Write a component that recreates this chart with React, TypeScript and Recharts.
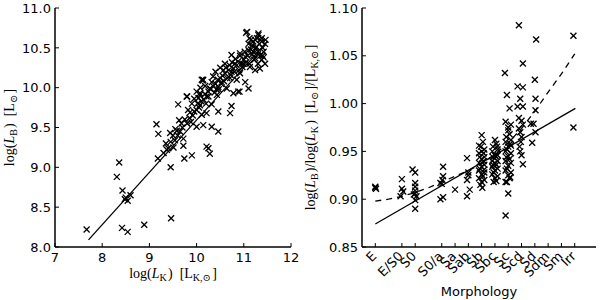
import React from "react"
import { ScatterChart, Scatter, XAxis, YAxis, Label } from "recharts"

// left panel: log(L_K) vs log(L_B)
const lumPoints: [number, number][] = [
    [7.67, 8.22], [8.31, 8.88], [8.36, 9.06], [8.43, 8.71], [8.48, 8.60], [8.54, 8.58],
    [8.60, 8.65], [8.50, 8.62], [8.42, 8.24], [8.54, 8.19], [8.89, 8.28], [9.46, 8.36],
    [9.45, 9.00], [9.18, 9.11], [9.74, 9.11], [9.90, 9.15], [10.28, 9.17], [9.37, 9.22],
    [9.40, 9.24], [9.15, 9.54], [9.19, 9.42], [9.44, 9.43], [9.58, 9.46], [9.54, 9.34],
    [9.72, 9.36], [9.72, 9.27], [10.25, 9.24], [10.21, 9.26], [9.51, 9.25], [9.61, 9.79],
    [9.79, 9.89], [9.63, 9.59], [9.86, 9.69], [9.88, 9.57], [10.00, 9.51], [10.14, 9.53],
    [10.32, 9.51], [10.46, 9.45], [10.71, 9.68], [10.74, 9.77], [10.11, 9.66], [10.21, 9.68],
    [10.46, 9.70], [10.07, 9.91], [10.25, 9.89], [10.07, 9.78], [10.32, 9.79], [10.13, 10.09],
    [10.11, 10.10], [9.80, 9.89], [9.60, 9.40], [9.65, 9.45], [9.70, 9.50], [9.80, 9.55],
    [9.85, 9.62], [9.92, 9.65], [9.95, 9.70], [10.00, 9.72], [10.02, 9.80], [10.05, 9.75],
    [10.10, 9.83], [10.15, 9.85], [10.18, 9.92], [10.20, 9.80], [10.25, 9.95], [10.30, 9.98],
    [10.35, 10.02], [10.38, 9.94], [10.40, 10.05], [10.42, 9.98], [10.45, 10.10], [10.50, 10.12],
    [10.52, 10.05], [10.55, 10.15], [10.58, 10.08], [10.60, 10.18], [10.62, 10.25], [10.65, 10.12],
    [10.68, 10.22], [10.70, 10.28], [10.72, 10.16], [10.75, 10.32], [10.78, 10.24], [10.80, 10.20],
    [10.82, 10.36], [10.85, 10.28], [10.88, 10.33], [10.90, 10.22], [10.92, 10.40], [10.95, 10.30],
    [10.97, 10.26], [11.00, 10.35], [11.02, 10.45], [11.05, 10.32], [11.08, 10.40], [11.10, 10.55],
    [11.12, 10.30], [11.15, 10.48], [11.18, 10.42], [11.20, 10.58], [11.22, 10.35], [11.25, 10.50],
    [11.28, 10.62], [11.30, 10.45], [11.33, 10.55], [11.35, 10.40], [11.38, 10.62], [11.40, 10.50],
    [11.42, 10.38], [11.07, 10.70], [11.31, 10.68], [11.24, 10.60], [11.38, 10.58], [11.27, 10.51],
    [11.17, 10.53], [11.10, 10.47], [10.74, 10.41], [10.92, 10.43], [11.03, 10.39], [11.24, 10.37],
    [11.38, 10.35], [11.45, 10.30], [10.60, 10.30], [10.81, 10.30], [10.99, 10.30], [11.13, 10.26],
    [10.57, 10.22], [10.74, 10.20], [10.92, 10.18], [11.24, 10.22], [11.34, 10.24], [10.14, 10.10],
    [10.32, 10.07], [10.53, 10.07], [10.71, 10.12], [10.85, 10.10], [11.03, 10.07], [11.10, 9.99],
    [10.46, 10.01], [10.64, 9.99], [10.28, 9.99], [10.07, 9.93], [10.21, 9.89], [10.43, 9.91],
    [10.78, 9.93], [10.88, 9.95], [10.04, 9.87], [10.91, 9.95], [10.47, 9.98], [11.46, 10.60],
    [11.40, 10.40], [11.30, 10.42], [11.05, 10.69], [11.31, 10.66], [9.30, 9.18], [9.35, 9.30],
    [9.45, 9.32], [9.50, 9.40], [9.55, 9.48], [9.68, 9.55], [9.75, 9.60], [9.82, 9.72],
    [9.90, 9.80], [9.95, 9.86], [10.00, 9.95], [10.08, 10.00], [10.18, 10.02], [10.35, 10.14],
    [10.40, 10.20], [10.50, 10.25], [11.12, 10.62], [11.15, 10.60], [11.20, 10.45], [11.30, 10.30],
    [11.35, 10.60], [11.42, 10.45], [11.45, 10.55],
]
const lumFit: [number, number][] = [[7.71, 8.09], [11.5, 10.58]]

const lkTicks = [7, 8, 9, 10, 11, 12]
const lbTicks = [8, 8.5, 9, 9.5, 10, 10.5, 11]

// right panel: morphological type vs log(LB)/log(LK)
const morphLabels = ["E", "E/S0", "S0", "S0/a", "Sa", "Sab", "Sb", "Sbc", "Sc", "Scd", "Sd", "Sdm", "Sm", "Irr"]
const morphTypes = [-5, -3, -2, 0, 1, 2, 3, 4, 5, 6, 7, 8, 9, 10]
const ratioTicks = [0.85, 0.9, 0.95, 1.0, 1.05, 1.1]

const ratioPoints: [number, number][] = [
    [-5, 0.913], [-5, 0.912], [-4.95, 0.911],
    [-3, 0.921], [-3, 0.911], [-3.1, 0.903], [-2.9, 0.908],
    [-2.2, 0.931], [-2, 0.928], [-2, 0.917], [-2, 0.913], [-2, 0.906], [-1.9, 0.903],
    [-2, 0.899], [-2, 0.890], [-2.1, 0.905], [-2, 0.909],
    [-0.1, 0.917], [-0.1, 0.900], [0.1, 0.934], [0.1, 0.924], [0.1, 0.902], [0, 0.916], [0.05, 0.920],
    [1, 0.910],
    [1.9, 0.943], [2, 0.928], [1.9, 0.920], [1.9, 0.903], [2.1, 0.910], [2.0, 0.925],
    [3, 0.967], [3.1, 0.960], [2.8, 0.956], [3.2, 0.952], [3, 0.950], [2.8, 0.948], [2.85, 0.944],
    [3.2, 0.944], [3, 0.942], [3.15, 0.940], [2.8, 0.938], [3.2, 0.936], [3, 0.934], [2.85, 0.932],
    [2.8, 0.930], [3.2, 0.928], [3, 0.926], [3.1, 0.924], [2.8, 0.922], [3.2, 0.920], [3, 0.918],
    [2.9, 0.915], [3.05, 0.912], [3.2, 0.931], [2.95, 0.955], [3.15, 0.948],
    [4, 0.962], [4.1, 0.958], [3.85, 0.955], [4.2, 0.952], [3.8, 0.950], [4.2, 0.946], [4, 0.946],
    [3.85, 0.944], [3.8, 0.940], [4.2, 0.940], [4, 0.938], [4.1, 0.936], [3.8, 0.934], [4.2, 0.932],
    [4, 0.930], [3.9, 0.928], [3.8, 0.926], [4.2, 0.924], [4, 0.922], [4.1, 0.919], [3.9, 0.918],
    [4.05, 0.945], [4.15, 0.955], [3.85, 0.936],
    [5, 0.972], [5.1, 0.968], [4.85, 0.965], [5.2, 0.962], [4.8, 0.960], [5.2, 0.956], [5, 0.955],
    [4.9, 0.952], [4.8, 0.950], [5.2, 0.948], [5, 0.945], [5.1, 0.942], [4.8, 0.940], [5.2, 0.938],
    [5, 0.935], [4.9, 0.932], [4.8, 0.930], [5.2, 0.928], [5, 0.925], [5.1, 0.922], [4.9, 0.918],
    [4.8, 0.883], [5.0, 0.906], [4.8, 0.918], [5.15, 0.923], [4.75, 1.032], [4.9, 1.009],
    [5.1, 0.995], [4.8, 0.981], [5.2, 0.978], [5, 0.975], [5.15, 0.958], [4.85, 0.944],
    [5.8, 1.082], [6.1, 1.042], [5.7, 1.018], [6.1, 1.017], [5.9, 1.005], [5.7, 0.997],
    [6.1, 0.997], [5.8, 0.985], [6.0, 0.982], [6.1, 0.978], [5.8, 0.974], [5.9, 0.970],
    [6.0, 0.965], [5.95, 0.960], [5.85, 0.955], [6.0, 0.946], [6.1, 0.9365], [5.9, 0.950],
    [7.1, 1.067], [7.0, 1.025], [7.05, 1.005], [7.05, 0.993], [6.9, 0.979], [7.05, 0.970],
    [6.8, 0.959], [6.7, 0.979],
    [9.9, 1.071], [9.9, 0.975],
]
const ratioFit: [number, number][] = [[-5, 0.874], [10.05, 0.995]]
const ratioTrend: [number, number][] = [
    [-5, 0.898], [-4, 0.900], [-3, 0.903], [-2, 0.907], [-1, 0.912], [0, 0.918], [1, 0.924],
    [2, 0.930], [3, 0.937], [4, 0.947], [5, 0.959], [6, 0.974], [7, 0.992], [8, 1.012],
    [9, 1.031], [10, 1.052],
]

const toXY = (pts: [number, number][]) => pts.map(([x, y]) => ({ x, y }))

const SANS = "DejaVu Sans"
const SERIF = "Liberation Serif, DejaVu Serif, serif"
const TICK = 4
const axisStroke = { stroke: "#000", strokeWidth: 1.5 }

const Cross = (props: any) => {
    const { cx, cy } = props
    const r = 3
    return (
        <g stroke="#000" strokeWidth={1.3}>
            <line x1={cx - r} y1={cy - r} x2={cx + r} y2={cy + r} />
            <line x1={cx - r} y1={cy + r} x2={cx + r} y2={cy - r} />
        </g>
    )
}
const NoDot = () => <g />

const LeftTick = ({ x, y, payload, digits }: any) => (
    <g>
        <line x1={x} x2={x + TICK} y1={y} y2={y} stroke="#000" />
        <text x={x - 4} y={y} dy="0.36em" textAnchor="end" fontFamily={SANS} fontSize={13} fill="#000">
            {Number(payload.value).toFixed(digits)}
        </text>
    </g>
)
const RightTick = ({ x, y }: any) => <line x1={x} x2={x - TICK} y1={y} y2={y} stroke="#000" />
const TopTick = ({ x, y }: any) => <line x1={x} x2={x} y1={y} y2={y + TICK} stroke="#000" />
const BottomTick = ({ x, y, payload }: any) => (
    <g>
        <line x1={x} x2={x} y1={y} y2={y - TICK} stroke="#000" />
        <text x={x} y={y + 15} textAnchor="middle" fontFamily={SANS} fontSize={13} fill="#000">
            {payload.value}
        </text>
    </g>
)
const MorphTick = ({ x, y, payload }: any) => {
    const i = morphTypes.indexOf(payload.value)
    const tx = x + 2
    const ty = y + 10
    return (
        <g>
            <line x1={x} x2={x} y1={y} y2={y - TICK} stroke="#000" />
            <text x={tx} y={ty} textAnchor="end" fontFamily={SANS} fontSize={13} fill="#000"
                transform={`rotate(-45, ${tx}, ${ty})`}>
                {morphLabels[i]}
            </text>
        </g>
    )
}

const sub = (s: string) => [
    <tspan key="a" fontSize={10} dy={3}>{s}</tspan>,
    <tspan key="b" dy={-3}>{"\u200a"}</tspan>,
]

const LkTitle = ({ viewBox }: any) => (
    <text x={viewBox.x + viewBox.width / 2} y={viewBox.y + 31} textAnchor="middle" fontFamily={SERIF} fontSize={14} fill="#000">
        log(<tspan fontStyle="italic">L</tspan>{sub("K")}){"\u00a0\u00a0"}[L{sub("K,\u2299")}]
    </text>
)
const LbTitle = ({ viewBox }: any) => {
    const x = viewBox.x + 4
    const y = viewBox.y + viewBox.height / 2
    return (
        <text x={x} y={y} textAnchor="middle" fontFamily={SERIF} fontSize={14} fill="#000" transform={`rotate(-90, ${x}, ${y})`}>
            log(<tspan fontStyle="italic">L</tspan>{sub("B")}){"\u00a0\u00a0"}[L{sub("\u2299")}]
        </text>
    )
}
const RatioTitle = ({ viewBox }: any) => {
    const x = viewBox.x - 2
    const y = viewBox.y + viewBox.height / 2
    return (
        <text x={x} y={y} textAnchor="middle" fontFamily={SERIF} fontSize={14} fill="#000" transform={`rotate(-90, ${x}, ${y})`}>
            log(<tspan fontStyle="italic">L</tspan>{sub("B")})/log(<tspan fontStyle="italic">L</tspan>{sub("K")}){"\u00a0\u00a0"}[L{sub("\u2299")}]/[L{sub("K,\u2299")}]
        </text>
    )
}
const MorphTitle = ({ viewBox }: any) => (
    <text x={viewBox.x + viewBox.width / 2} y={viewBox.y + 49} textAnchor="middle" fontFamily={SANS} fontSize={13} fill="#000">
        Morphology
    </text>
)

function LuminosityPanel() {
    return (
        <ScatterChart width={300} height={300} margin={{ top: 8, right: 9, bottom: 0, left: 10 }}>
            <XAxis xAxisId="b" type="number" dataKey="x" domain={[7, 12]} ticks={lkTicks} interval={0}
                height={53} tickSize={0} tickMargin={0} tickLine={false} axisLine={axisStroke} tick={<BottomTick />}>
                <Label content={<LkTitle />} />
            </XAxis>
            <XAxis xAxisId="t" orientation="top" type="number" dataKey="x" domain={[7, 12]} ticks={lkTicks} interval={0}
                height={0} tickSize={0} tickMargin={0} tickLine={false} axisLine={axisStroke} tick={<TopTick />} />
            <YAxis yAxisId="l" type="number" dataKey="y" domain={[8, 11]} ticks={lbTicks} interval={0}
                width={45} tickSize={0} tickMargin={0} tickLine={false} axisLine={axisStroke} tick={<LeftTick digits={1} />}>
                <Label content={<LbTitle />} />
            </YAxis>
            <YAxis yAxisId="r" orientation="right" type="number" dataKey="y" domain={[8, 11]} ticks={lbTicks} interval={0}
                width={0} tickSize={0} tickMargin={0} tickLine={false} axisLine={axisStroke} tick={<RightTick />} />
            <Scatter data={toXY(lumPoints)} xAxisId="b" yAxisId="l" shape={<Cross />} isAnimationActive={false} />
            <Scatter data={toXY(lumFit)} xAxisId="t" yAxisId="r" shape={<NoDot />}
                line={{ stroke: "#000", strokeWidth: 1.3 }} isAnimationActive={false} />
        </ScatterChart>
    )
}

function MorphologyPanel() {
    return (
        <ScatterChart width={300} height={300} margin={{ top: 8, right: 4, bottom: 0, left: 17 }}>
            <XAxis xAxisId="b" type="number" dataKey="x" domain={[-6, 11.6]} ticks={morphTypes} interval={0}
                height={53} tickSize={0} tickMargin={0} tickLine={false} axisLine={axisStroke} tick={<MorphTick />}>
                <Label content={<MorphTitle />} />
            </XAxis>
            <XAxis xAxisId="t" orientation="top" type="number" dataKey="x" domain={[-6, 11.6]} ticks={morphTypes} interval={0}
                height={0} tickSize={0} tickMargin={0} tickLine={false} axisLine={axisStroke} tick={<TopTick />} />
            <YAxis yAxisId="l" type="number" dataKey="y" domain={[0.85, 1.1]} ticks={ratioTicks} interval={0}
                width={45} tickSize={0} tickMargin={0} tickLine={false} axisLine={axisStroke} tick={<LeftTick digits={2} />}>
                <Label content={<RatioTitle />} />
            </YAxis>
            <YAxis yAxisId="r" orientation="right" type="number" dataKey="y" domain={[0.85, 1.1]} ticks={ratioTicks} interval={0}
                width={0} tickSize={0} tickMargin={0} tickLine={false} axisLine={axisStroke} tick={<RightTick />} />
            <Scatter data={toXY(ratioPoints)} xAxisId="b" yAxisId="l" shape={<Cross />} isAnimationActive={false} />
            <Scatter data={toXY(ratioFit)} xAxisId="t" yAxisId="r" shape={<NoDot />}
                line={{ stroke: "#000", strokeWidth: 1.3 }} isAnimationActive={false} />
            <Scatter data={toXY(ratioTrend)} xAxisId="t" yAxisId="r" shape={<NoDot />}
                line={{ stroke: "#000", strokeWidth: 1.3, strokeDasharray: "6 5" }} isAnimationActive={false} />
        </ScatterChart>
    )
}

export default function App() {
    return (
        <div style={{ position: "absolute", left: 0, top: 0, width: 600, height: 300, display: "flex", background: "#fff" }}>
            <LuminosityPanel />
            <MorphologyPanel />
        </div>
    )
}
